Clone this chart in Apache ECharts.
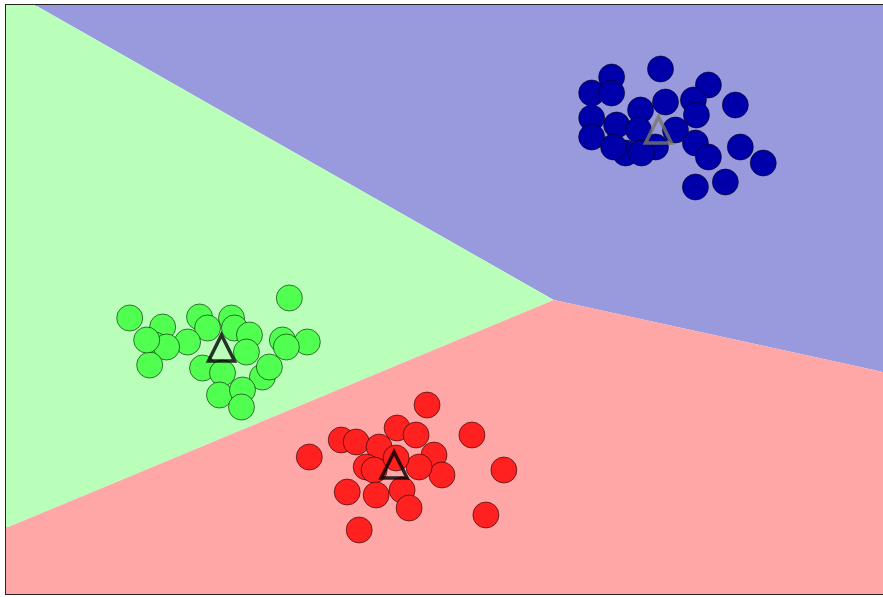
<!DOCTYPE html>
<html>
<head>
<meta charset="utf-8">
<script src="https://cdn.jsdelivr.net/npm/echarts@6/dist/echarts.min.js"></script>
<style>
  html, body { margin: 0; padding: 0; background: #fff; }
  #chart { width: 883px; height: 597px; }
</style>
</head>
<body>
<div id="chart"></div>
<script>
// decision regions (polygon vertices)
const regionGreen = [[0, 58.9], [2.9, 58.9], [54.9, 29.4], [0, 6.6]];
const regionBlue = [[2.9, 58.9], [87.9, 58.9], [87.9, 22.2], [54.9, 29.4]];
const regionRed = [[0, 6.6], [54.9, 29.4], [87.9, 22.2], [87.9, 0], [0, 0]];

const bluePoints = [
  [65.6, 52.5], [60.7, 51.7], [58.7, 50.1], [60.7, 50.1], [70.4, 50.9],
  [66.1, 49.2], [68.9, 49.4], [73.1, 48.9], [63.6, 48.4], [58.7, 47.6],
  [61.2, 46.9], [69.2, 47.9], [58.7, 45.7], [62.1, 44.1], [60.9, 44.7],
  [65.1, 44.7], [67.1, 46.4], [69.1, 45.1], [70.4, 43.7], [73.6, 44.7],
  [75.9, 43.1], [72.1, 41.2], [69.1, 40.7], [63.4, 46.4], [63.7, 44.1]
];
const greenPoints = [
  [28.4, 29.6], [12.4, 27.6], [15.7, 26.7], [19.4, 27.7], [22.6, 27.6],
  [20.2, 26.6], [22.9, 26.6], [24.4, 25.9], [18.2, 25.2], [14.9, 24.9],
  [16.1, 24.7], [27.7, 25.4], [30.2, 25.2], [24.1, 24.2], [14.4, 22.9],
  [19.7, 22.6], [21.7, 22.1], [25.7, 21.7], [26.4, 22.7], [21.4, 19.9],
  [23.7, 20.4], [23.6, 18.7], [14.1, 25.4], [28.1, 24.7]
];
const redPoints = [
  [42.2, 18.9], [30.4, 13.7], [33.6, 15.4], [35.1, 15.2], [39.2, 16.6],
  [41.1, 15.9], [37.4, 14.7], [46.7, 15.9], [42.9, 13.9], [43.7, 11.9],
  [49.9, 12.4], [36.1, 12.7], [36.9, 12.4], [34.2, 10.2], [37.1, 9.9],
  [39.7, 10.4], [40.4, 8.6], [48.1, 7.9], [35.4, 6.4], [41.4, 12.7],
  [39.1, 13.6]
];
const centerBlue = [[65.4, 46.4]];
const centerGreen = [[21.6, 24.6]];
const centerRed = [[38.9, 12.9]];

const regions = [regionBlue, regionGreen, regionRed];
const regionColors = ['#9999dd', '#b9ffb9', '#ffa6a6'];

const chart = echarts.init(document.getElementById('chart'));

function scatterSeries(data, color, z) {
  return {
    type: 'scatter',
    data: data,
    symbolSize: 26,
    z: z,
    itemStyle: {
      color: color,
      borderColor: 'rgba(0,0,0,0.55)',
      borderWidth: 1,
      opacity: 1
    },
    silent: true
  };
}

function centerSeries(data, edge, z) {
  return {
    type: 'scatter',
    data: data,
    symbol: 'triangle',
    symbolSize: 26,
    z: z,
    itemStyle: {
      color: 'rgba(0,0,0,0)',
      borderColor: edge,
      borderWidth: 3.5
    },
    silent: true
  };
}

chart.setOption({
  animation: false,
  grid: {
    left: 6, top: 5, right: -2, bottom: 3,
    show: true,
    borderColor: '#222',
    borderWidth: 2,
    backgroundColor: 'transparent'
  },
  xAxis: {
    type: 'value', min: 0, max: 87.9,
    axisLine: { show: false }, axisTick: { show: false },
    axisLabel: { show: false }, splitLine: { show: false }
  },
  yAxis: {
    type: 'value', min: 0, max: 58.9,
    axisLine: { show: false }, axisTick: { show: false },
    axisLabel: { show: false }, splitLine: { show: false }
  },
  series: [
    {
      type: 'custom',
      z: 1,
      silent: true,
      data: [0, 1, 2],
      renderItem: function (params, api) {
        const pts = regions[params.dataIndex].map(p => api.coord(p));
        return {
          type: 'polygon',
          shape: { points: pts },
          style: { fill: regionColors[params.dataIndex], stroke: null }
        };
      }
    },
    scatterSeries(bluePoints, '#0000aa', 3),
    scatterSeries(greenPoints, '#50ff50', 3),
    scatterSeries(redPoints, '#ff2020', 3),
    centerSeries(centerBlue, '#77776a', 4),
    centerSeries(centerGreen, '#000', 4),
    centerSeries(centerRed, '#000', 4)
  ]
});
</script>
</body>
</html>
